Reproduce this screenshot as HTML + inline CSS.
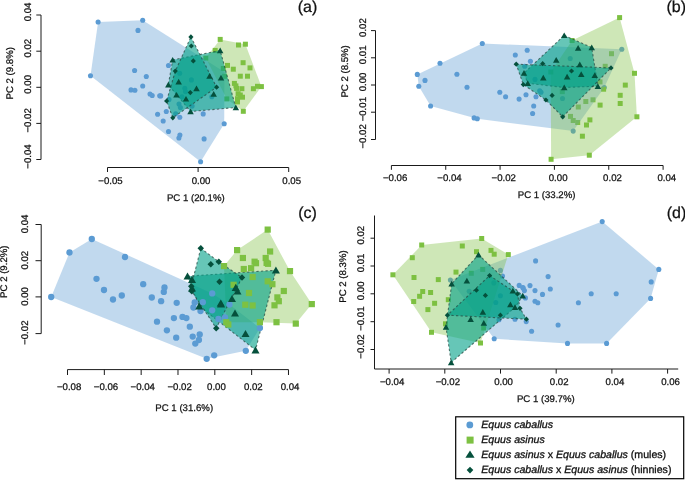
<!DOCTYPE html>
<html><head><meta charset="utf-8"><title>PCA</title>
<style>html,body{margin:0;padding:0;background:#fff;overflow:hidden}svg{display:block;will-change:transform;filter:blur(0.3px)}</style>
</head><body>
<svg width="685" height="480" viewBox="0 0 685 480">
<rect width="685" height="480" fill="#fff"/>
<g fill="#5b9bd3"><circle cx="98.1" cy="22.0" r="2.55"/><circle cx="142.7" cy="20.2" r="2.55"/><circle cx="138.0" cy="30.4" r="2.55"/><circle cx="168.5" cy="65.5" r="2.55"/><circle cx="134.6" cy="70.5" r="2.55"/><circle cx="90.5" cy="75.8" r="2.55"/><circle cx="146.3" cy="76.5" r="2.55"/><circle cx="142.7" cy="86.0" r="2.55"/><circle cx="131.0" cy="89.9" r="2.55"/><circle cx="134.9" cy="90.2" r="2.55"/><circle cx="150.0" cy="94.0" r="2.55"/><circle cx="152.2" cy="95.5" r="2.55"/><circle cx="159.7" cy="95.8" r="2.55"/><circle cx="166.3" cy="111.5" r="2.55"/><circle cx="157.6" cy="114.3" r="2.55"/><circle cx="179.8" cy="117.2" r="2.55"/><circle cx="163.2" cy="121.0" r="2.55"/><circle cx="168.5" cy="131.5" r="2.55"/><circle cx="179.9" cy="135.1" r="2.55"/><circle cx="178.9" cy="138.0" r="2.55"/><circle cx="204.1" cy="138.9" r="2.55"/><circle cx="224.2" cy="123.7" r="2.55"/><circle cx="203.2" cy="113.9" r="2.55"/><circle cx="200.6" cy="161.7" r="2.55"/><circle cx="179.7" cy="73.3" r="2.55"/><circle cx="191.4" cy="79.9" r="2.55"/><circle cx="184.8" cy="88.2" r="2.55"/><circle cx="185.5" cy="91.6" r="2.55"/><circle cx="181.9" cy="96.7" r="2.55"/><circle cx="169.0" cy="99.6" r="2.55"/><circle cx="179.0" cy="104.0" r="2.55"/><circle cx="180.4" cy="107.6" r="2.55"/><circle cx="192.1" cy="106.1" r="2.55"/><circle cx="175.7" cy="113.7" r="2.55"/><circle cx="160.7" cy="95.9" r="2.55"/><circle cx="211.8" cy="96.7" r="2.55"/></g>
<g fill="#7dc142"><rect x="217.7" y="36.9" width="5.0" height="5.0"/><rect x="236.0" y="42.5" width="5.0" height="5.0"/><rect x="242.9" y="41.7" width="5.0" height="5.0"/><rect x="212.7" y="47.9" width="5.0" height="5.0"/><rect x="240.6" y="60.2" width="5.0" height="5.0"/><rect x="247.5" y="65.4" width="5.0" height="5.0"/><rect x="230.8" y="66.7" width="5.0" height="5.0"/><rect x="225.0" y="62.9" width="5.0" height="5.0"/><rect x="237.8" y="73.7" width="5.0" height="5.0"/><rect x="245.0" y="73.7" width="5.0" height="5.0"/><rect x="231.9" y="80.9" width="5.0" height="5.0"/><rect x="233.4" y="83.4" width="5.0" height="5.0"/><rect x="234.1" y="85.9" width="5.0" height="5.0"/><rect x="239.4" y="86.2" width="5.0" height="5.0"/><rect x="250.9" y="86.2" width="5.0" height="5.0"/><rect x="255.0" y="83.8" width="5.0" height="5.0"/><rect x="258.9" y="84.1" width="5.0" height="5.0"/><rect x="235.6" y="91.2" width="5.0" height="5.0"/><rect x="237.8" y="92.5" width="5.0" height="5.0"/><rect x="240.0" y="94.7" width="5.0" height="5.0"/><rect x="235.0" y="96.2" width="5.0" height="5.0"/><rect x="235.0" y="99.4" width="5.0" height="5.0"/><rect x="224.3" y="96.4" width="5.0" height="5.0"/><rect x="240.8" y="108.8" width="5.0" height="5.0"/><rect x="220.8" y="66.0" width="5.0" height="5.0"/><rect x="203.3" y="55.6" width="5.0" height="5.0"/><rect x="222.1" y="73.8" width="5.0" height="5.0"/></g>
<polygon points="98.1,22.0 142.7,20.2 224.5,72.0 224.2,123.7 200.6,161.7 90.5,75.8" fill="#5b9bd3" fill-opacity="0.38"/>
<polygon points="205.8,58.1 220.2,39.4 245.4,44.2 261.4,86.6 243.3,111.3 226.8,98.9" fill="#7dc142" fill-opacity="0.38"/>
<polygon points="172.7,59.9 220.2,50.5 235.8,107.5 190.6,111.5 168.3,84.7" fill="#00a087" fill-opacity="0.6" stroke="#24463e" stroke-opacity="0.7" stroke-width="1.1" stroke-dasharray="2.3 2.3"/>
<polygon points="190.9,36.9 216.6,87.2 172.8,117.8 166.6,101.0 175.3,71.1" fill="#00a087" fill-opacity="0.6" stroke="#24463e" stroke-opacity="0.7" stroke-width="1.1" stroke-dasharray="2.3 2.3"/>
<g fill="#05503c"><path d="M172.7 56.9L175.9 62.6L169.4 62.6Z"/><path d="M220.2 47.5L223.4 53.2L216.9 53.2Z"/><path d="M209.6 73.0L212.8 78.7L206.3 78.7Z"/><path d="M221.0 74.7L224.2 80.4L217.8 80.4Z"/><path d="M178.7 78.8L181.9 84.5L175.4 84.5Z"/><path d="M168.3 81.7L171.6 87.4L165.1 87.4Z"/><path d="M196.5 85.6L199.8 91.3L193.2 91.3Z"/><path d="M176.5 91.9L179.8 97.6L173.2 97.6Z"/><path d="M186.0 95.9L189.2 101.6L182.8 101.6Z"/><path d="M213.7 91.0L216.9 96.7L210.4 96.7Z"/><path d="M190.6 108.5L193.8 114.2L187.3 114.2Z"/><path d="M235.8 104.5L239.1 110.2L232.6 110.2Z"/></g>
<g fill="#05503c"><path d="M190.9 34.3L193.5 36.9L190.9 39.5L188.3 36.9Z"/><path d="M191.3 43.4L193.9 46.0L191.3 48.6L188.7 46.0Z"/><path d="M193.3 58.3L195.9 60.9L193.3 63.5L190.7 60.9Z"/><path d="M175.3 68.5L177.9 71.1L175.3 73.7L172.7 71.1Z"/><path d="M216.6 84.6L219.2 87.2L216.6 89.8L214.0 87.2Z"/><path d="M190.3 90.0L192.9 92.6L190.3 95.2L187.7 92.6Z"/><path d="M166.6 98.4L169.2 101.0L166.6 103.6L164.0 101.0Z"/><path d="M172.8 115.2L175.4 117.8L172.8 120.4L170.2 117.8Z"/></g>
<g fill="#5b9bd3"><circle cx="482.3" cy="43.5" r="2.55"/><circle cx="440.0" cy="63.3" r="2.55"/><circle cx="417.3" cy="74.4" r="2.55"/><circle cx="425.0" cy="80.4" r="2.55"/><circle cx="418.8" cy="86.2" r="2.55"/><circle cx="430.6" cy="106.0" r="2.55"/><circle cx="474.1" cy="117.9" r="2.55"/><circle cx="477.3" cy="118.8" r="2.55"/><circle cx="456.9" cy="74.2" r="2.55"/><circle cx="467.0" cy="87.3" r="2.55"/><circle cx="499.8" cy="92.2" r="2.55"/><circle cx="505.6" cy="96.7" r="2.55"/><circle cx="515.3" cy="55.0" r="2.55"/><circle cx="527.2" cy="50.3" r="2.55"/><circle cx="530.4" cy="61.2" r="2.55"/><circle cx="519.1" cy="99.1" r="2.55"/><circle cx="526.0" cy="94.8" r="2.55"/><circle cx="536.0" cy="96.8" r="2.55"/><circle cx="533.7" cy="106.0" r="2.55"/><circle cx="532.6" cy="113.5" r="2.55"/><circle cx="573.2" cy="131.1" r="2.55"/><circle cx="604.3" cy="87.5" r="2.55"/><circle cx="621.8" cy="49.2" r="2.55"/><circle cx="524.7" cy="66.3" r="2.55"/><circle cx="535.0" cy="79.4" r="2.55"/><circle cx="539.7" cy="90.7" r="2.55"/><circle cx="541.0" cy="92.3" r="2.55"/><circle cx="570.2" cy="58.5" r="2.55"/><circle cx="562.5" cy="98.5" r="2.55"/></g>
<g fill="#7dc142"><rect x="617.1" y="15.1" width="5.0" height="5.0"/><rect x="569.6" y="38.0" width="5.0" height="5.0"/><rect x="609.0" y="51.2" width="5.0" height="5.0"/><rect x="602.7" y="63.8" width="5.0" height="5.0"/><rect x="632.0" y="70.8" width="5.0" height="5.0"/><rect x="622.8" y="82.6" width="5.0" height="5.0"/><rect x="617.7" y="92.8" width="5.0" height="5.0"/><rect x="617.7" y="101.0" width="5.0" height="5.0"/><rect x="597.6" y="102.6" width="5.0" height="5.0"/><rect x="601.1" y="86.7" width="5.0" height="5.0"/><rect x="590.5" y="97.3" width="5.0" height="5.0"/><rect x="583.3" y="99.0" width="5.0" height="5.0"/><rect x="575.8" y="104.5" width="5.0" height="5.0"/><rect x="587.4" y="117.4" width="5.0" height="5.0"/><rect x="584.0" y="122.5" width="5.0" height="5.0"/><rect x="579.9" y="133.7" width="5.0" height="5.0"/><rect x="568.0" y="113.9" width="5.0" height="5.0"/><rect x="570.7" y="118.0" width="5.0" height="5.0"/><rect x="575.2" y="120.0" width="5.0" height="5.0"/><rect x="559.8" y="89.1" width="5.0" height="5.0"/><rect x="548.6" y="156.8" width="5.0" height="5.0"/><rect x="586.8" y="152.7" width="5.0" height="5.0"/><rect x="634.4" y="114.3" width="5.0" height="5.0"/><rect x="597.5" y="79.4" width="5.0" height="5.0"/><rect x="548.3" y="69.5" width="5.0" height="5.0"/></g>
<polygon points="482.3,43.5 621.8,49.2 604.3,87.5 573.2,131.1 477.3,118.8 430.6,106.0 418.8,86.2 417.3,74.4" fill="#5b9bd3" fill-opacity="0.38"/>
<polygon points="619.6,17.6 634.5,73.2 636.9,116.8 589.3,155.2 551.1,159.3 550.8,72.0 572.1,40.5" fill="#7dc142" fill-opacity="0.38"/>
<polygon points="564.2,35.4 591.7,47.5 597.9,86.2 564.2,87.5 527.7,83.3 524.0,73.1" fill="#00a087" fill-opacity="0.6" stroke="#24463e" stroke-opacity="0.7" stroke-width="1.1" stroke-dasharray="2.3 2.3"/>
<polygon points="516.2,64.2 611.0,67.9 562.7,116.8 545.9,100.0 523.3,84.6" fill="#00a087" fill-opacity="0.6" stroke="#24463e" stroke-opacity="0.7" stroke-width="1.1" stroke-dasharray="2.3 2.3"/>
<g fill="#05503c"><path d="M564.2 32.4L567.5 38.1L561.0 38.1Z"/><path d="M578.1 45.1L581.4 50.8L574.9 50.8Z"/><path d="M591.7 44.5L595.0 50.2L588.5 50.2Z"/><path d="M556.2 57.0L559.5 62.7L553.0 62.7Z"/><path d="M579.8 61.6L583.0 67.3L576.5 67.3Z"/><path d="M524.0 70.1L527.2 75.8L520.8 75.8Z"/><path d="M543.3 74.7L546.5 80.4L540.0 80.4Z"/><path d="M567.1 73.7L570.4 79.4L563.9 79.4Z"/><path d="M581.2 71.2L584.5 76.9L578.0 76.9Z"/><path d="M594.8 72.2L598.0 77.9L591.5 77.9Z"/><path d="M527.7 80.3L531.0 86.0L524.5 86.0Z"/><path d="M564.2 84.5L567.5 90.2L561.0 90.2Z"/><path d="M597.9 83.3L601.1 89.0L594.6 89.0Z"/></g>
<g fill="#05503c"><path d="M516.2 61.6L518.9 64.2L516.2 66.8L513.6 64.2Z"/><path d="M542.7 61.1L545.3 63.8L542.7 66.3L540.1 63.8Z"/><path d="M571.5 68.4L574.1 71.0L571.5 73.6L568.9 71.0Z"/><path d="M611.0 65.3L613.6 67.9L611.0 70.5L608.4 67.9Z"/><path d="M523.3 82.0L525.9 84.6L523.3 87.2L520.7 84.6Z"/><path d="M552.1 92.8L554.7 95.4L552.1 98.0L549.5 95.4Z"/><path d="M545.9 97.4L548.5 100.0L545.9 102.6L543.3 100.0Z"/><path d="M562.7 114.2L565.3 116.8L562.7 119.4L560.1 116.8Z"/></g>
<polygon points="51.2,297.0 69.5,252.5 91.8,239.0 212.2,293.4 229.5,304.5 259.9,328.0 245.8,350.8 206.7,358.8" fill="#5b9bd3" fill-opacity="0.38"/>
<polygon points="267.7,229.6 290.0,271.1 311.8,304.1 295.8,323.6 259.9,322.2 226.3,322.2 224.0,266.1 237.1,250.1" fill="#7dc142" fill-opacity="0.38"/>
<polygon points="187.5,276.2 275.9,270.2 255.5,350.0 199.2,306.2 192.0,288.2" fill="#00a087" fill-opacity="0.6" stroke="#24463e" stroke-opacity="0.7" stroke-width="1.1" stroke-dasharray="2.3 2.3"/>
<polygon points="200.8,248.2 218.8,261.8 242.0,277.5 216.2,328.2 191.8,291.2 191.2,286.2" fill="#00a087" fill-opacity="0.6" stroke="#24463e" stroke-opacity="0.7" stroke-width="1.1" stroke-dasharray="2.3 2.3"/>
<g fill="#5b9bd3"><circle cx="51.2" cy="297.0" r="3.162"/><circle cx="69.5" cy="252.5" r="3.162"/><circle cx="91.8" cy="239.0" r="3.162"/><circle cx="125.0" cy="257.0" r="3.162"/><circle cx="96.5" cy="278.8" r="3.162"/><circle cx="104.0" cy="290.0" r="3.162"/><circle cx="113.0" cy="299.5" r="3.162"/><circle cx="121.8" cy="295.5" r="3.162"/><circle cx="143.2" cy="284.2" r="3.162"/><circle cx="151.8" cy="297.5" r="3.162"/><circle cx="161.1" cy="301.2" r="3.162"/><circle cx="163.8" cy="291.9" r="3.162"/><circle cx="164.5" cy="287.5" r="3.162"/><circle cx="176.7" cy="302.8" r="3.162"/><circle cx="194.7" cy="302.5" r="3.162"/><circle cx="193.4" cy="307.5" r="3.162"/><circle cx="200.5" cy="311.1" r="3.162"/><circle cx="202.8" cy="302.2" r="3.162"/><circle cx="157.0" cy="321.7" r="3.162"/><circle cx="173.9" cy="318.1" r="3.162"/><circle cx="182.5" cy="316.9" r="3.162"/><circle cx="186.4" cy="318.1" r="3.162"/><circle cx="189.8" cy="326.7" r="3.162"/><circle cx="166.9" cy="330.3" r="3.162"/><circle cx="176.2" cy="337.7" r="3.162"/><circle cx="192.7" cy="336.6" r="3.162"/><circle cx="199.7" cy="334.5" r="3.162"/><circle cx="198.9" cy="340.0" r="3.162"/><circle cx="195.3" cy="343.6" r="3.162"/><circle cx="206.7" cy="358.8" r="3.162"/><circle cx="214.2" cy="355.3" r="3.162"/><circle cx="245.8" cy="350.8" r="3.162"/><circle cx="259.9" cy="328.0" r="3.162"/><circle cx="212.2" cy="293.4" r="3.162"/><circle cx="212.2" cy="310.3" r="3.162"/><circle cx="218.4" cy="318.9" r="3.162"/><circle cx="225.0" cy="317.5" r="3.162"/><circle cx="229.5" cy="304.5" r="3.162"/></g>
<g fill="#7dc142"><rect x="264.6" y="226.5" width="6.2" height="6.2"/><rect x="234.0" y="247.0" width="6.2" height="6.2"/><rect x="267.0" y="248.4" width="6.2" height="6.2"/><rect x="239.8" y="254.9" width="6.2" height="6.2"/><rect x="251.5" y="258.6" width="6.2" height="6.2"/><rect x="252.9" y="260.1" width="6.2" height="6.2"/><rect x="262.6" y="254.9" width="6.2" height="6.2"/><rect x="263.5" y="259.8" width="6.2" height="6.2"/><rect x="264.9" y="260.7" width="6.2" height="6.2"/><rect x="240.7" y="265.9" width="6.2" height="6.2"/><rect x="248.0" y="265.1" width="6.2" height="6.2"/><rect x="220.9" y="263.0" width="6.2" height="6.2"/><rect x="286.9" y="268.0" width="6.2" height="6.2"/><rect x="249.5" y="273.9" width="6.2" height="6.2"/><rect x="264.6" y="278.2" width="6.2" height="6.2"/><rect x="269.3" y="281.1" width="6.2" height="6.2"/><rect x="230.5" y="281.7" width="6.2" height="6.2"/><rect x="280.7" y="287.9" width="6.2" height="6.2"/><rect x="274.3" y="294.3" width="6.2" height="6.2"/><rect x="275.7" y="298.1" width="6.2" height="6.2"/><rect x="271.4" y="302.2" width="6.2" height="6.2"/><rect x="245.9" y="289.9" width="6.2" height="6.2"/><rect x="242.2" y="301.6" width="6.2" height="6.2"/><rect x="249.5" y="302.4" width="6.2" height="6.2"/><rect x="308.7" y="301.0" width="6.2" height="6.2"/><rect x="273.4" y="319.1" width="6.2" height="6.2"/><rect x="292.7" y="320.5" width="6.2" height="6.2"/><rect x="256.8" y="319.1" width="6.2" height="6.2"/><rect x="223.2" y="319.1" width="6.2" height="6.2"/><rect x="225.2" y="321.4" width="6.2" height="6.2"/></g>
<g fill="#05503c"><path d="M187.5 272.6L191.5 279.6L183.5 279.6Z"/><path d="M192.0 275.8L196.0 282.9L188.0 282.9Z"/><path d="M192.0 284.6L196.0 291.6L188.0 291.6Z"/><path d="M199.2 302.6L203.3 309.6L195.2 309.6Z"/><path d="M220.8 299.6L224.8 306.6L216.7 306.6Z"/><path d="M232.0 295.1L236.0 302.1L228.0 302.1Z"/><path d="M237.5 287.6L241.5 294.6L233.5 294.6Z"/><path d="M235.8 283.8L239.8 290.9L231.7 290.9Z"/><path d="M235.0 309.6L239.0 316.6L231.0 316.6Z"/><path d="M245.5 330.1L249.5 337.1L241.5 337.1Z"/><path d="M275.9 266.5L279.9 273.6L271.9 273.6Z"/><path d="M255.5 346.3L259.5 353.4L251.5 353.4Z"/><path d="M221.0 300.4L225.0 307.5L217.0 307.5Z"/></g>
<g fill="#05503c"><path d="M200.8 245.0L204.0 248.2L200.8 251.5L197.5 248.2Z"/><path d="M210.8 261.0L214.0 264.2L210.8 267.5L207.5 264.2Z"/><path d="M218.8 258.5L222.0 261.8L218.8 265.0L215.5 261.8Z"/><path d="M219.5 278.5L222.7 281.8L219.5 285.0L216.3 281.8Z"/><path d="M191.2 283.0L194.5 286.2L191.2 289.5L188.0 286.2Z"/><path d="M191.8 288.0L195.0 291.2L191.8 294.5L188.5 291.2Z"/><path d="M242.0 274.3L245.2 277.5L242.0 280.7L238.8 277.5Z"/><path d="M216.2 325.0L219.5 328.2L216.2 331.5L213.0 328.2Z"/></g>
<g fill="#5b9bd3"><circle cx="450.4" cy="280.0" r="2.55"/><circle cx="602.2" cy="221.6" r="2.55"/><circle cx="658.8" cy="269.4" r="2.55"/><circle cx="651.2" cy="281.9" r="2.55"/><circle cx="650.6" cy="298.4" r="2.55"/><circle cx="606.6" cy="343.4" r="2.55"/><circle cx="567.5" cy="343.4" r="2.55"/><circle cx="535.6" cy="260.9" r="2.55"/><circle cx="548.1" cy="276.6" r="2.55"/><circle cx="530.0" cy="285.6" r="2.55"/><circle cx="535.0" cy="290.6" r="2.55"/><circle cx="542.5" cy="294.4" r="2.55"/><circle cx="550.3" cy="289.0" r="2.55"/><circle cx="535.0" cy="301.2" r="2.55"/><circle cx="537.8" cy="302.8" r="2.55"/><circle cx="591.2" cy="293.8" r="2.55"/><circle cx="616.2" cy="293.8" r="2.55"/><circle cx="578.4" cy="302.8" r="2.55"/><circle cx="558.1" cy="325.0" r="2.55"/><circle cx="531.6" cy="331.2" r="2.55"/><circle cx="526.2" cy="321.6" r="2.55"/><circle cx="523.1" cy="288.1" r="2.55"/><circle cx="502.5" cy="276.0" r="2.55"/><circle cx="519.2" cy="285.4" r="2.55"/><circle cx="522.9" cy="287.5" r="2.55"/><circle cx="524.4" cy="290.6" r="2.55"/><circle cx="525.4" cy="297.9" r="2.55"/><circle cx="515.0" cy="319.2" r="2.55"/><circle cx="494.2" cy="338.8" r="2.55"/><circle cx="469.2" cy="291.2" r="2.55"/><circle cx="500.4" cy="295.8" r="2.55"/><circle cx="495.8" cy="302.5" r="2.55"/><circle cx="493.8" cy="282.9" r="2.55"/><circle cx="499.0" cy="319.8" r="2.55"/><circle cx="500.4" cy="270.4" r="2.55"/></g>
<g fill="#7dc142"><rect x="419.2" y="242.5" width="5.0" height="5.0"/><rect x="459.8" y="243.5" width="5.0" height="5.0"/><rect x="409.8" y="255.2" width="5.0" height="5.0"/><rect x="390.4" y="272.3" width="5.0" height="5.0"/><rect x="411.5" y="275.0" width="5.0" height="5.0"/><rect x="435.8" y="277.1" width="5.0" height="5.0"/><rect x="453.5" y="269.6" width="5.0" height="5.0"/><rect x="420.2" y="289.0" width="5.0" height="5.0"/><rect x="417.1" y="293.8" width="5.0" height="5.0"/><rect x="428.1" y="290.0" width="5.0" height="5.0"/><rect x="411.2" y="299.0" width="5.0" height="5.0"/><rect x="432.1" y="300.8" width="5.0" height="5.0"/><rect x="425.4" y="307.1" width="5.0" height="5.0"/><rect x="479.2" y="236.0" width="5.0" height="5.0"/><rect x="474.0" y="249.2" width="5.0" height="5.0"/><rect x="488.5" y="247.9" width="5.0" height="5.0"/><rect x="491.7" y="251.7" width="5.0" height="5.0"/><rect x="505.8" y="252.1" width="5.0" height="5.0"/><rect x="445.8" y="297.2" width="5.0" height="5.0"/><rect x="443.0" y="321.3" width="5.0" height="5.0"/><rect x="478.0" y="340.5" width="5.0" height="5.0"/><rect x="481.2" y="325.5" width="5.0" height="5.0"/><rect x="480.2" y="266.9" width="5.0" height="5.0"/><rect x="468.8" y="270.8" width="5.0" height="5.0"/><rect x="429.0" y="329.8" width="5.0" height="5.0"/></g>
<polygon points="450.4,280.0 602.2,221.6 658.8,269.4 650.6,298.4 606.6,343.4 567.5,343.4 494.2,338.8" fill="#5b9bd3" fill-opacity="0.38"/>
<polygon points="392.9,274.8 421.7,245.0 481.7,238.5 508.3,254.6 480.5,343.0 431.5,332.3" fill="#7dc142" fill-opacity="0.38"/>
<polygon points="478.5,254.8 522.8,295.8 515.0,307.3 451.2,362.5 446.0,327.0 451.7,283.8" fill="#00a087" fill-opacity="0.6" stroke="#24463e" stroke-opacity="0.7" stroke-width="1.1" stroke-dasharray="2.3 2.3"/>
<polygon points="489.6,275.6 517.5,293.9 520.0,308.3 526.4,319.2 447.4,315.2" fill="#00a087" fill-opacity="0.6" stroke="#24463e" stroke-opacity="0.7" stroke-width="1.1" stroke-dasharray="2.3 2.3"/>
<g fill="#05503c"><path d="M478.5 251.8L481.8 257.5L475.2 257.5Z"/><path d="M451.7 280.8L454.9 286.5L448.4 286.5Z"/><path d="M466.9 277.7L470.1 283.4L463.6 283.4Z"/><path d="M470.7 316.3L473.9 322.0L467.4 322.0Z"/><path d="M446.0 324.0L449.2 329.7L442.8 329.7Z"/><path d="M512.9 287.7L516.1 293.4L509.6 293.4Z"/><path d="M522.8 292.8L526.0 298.5L519.5 298.5Z"/><path d="M510.4 301.5L513.6 307.2L507.1 307.2Z"/><path d="M515.0 304.3L518.2 310.0L511.8 310.0Z"/><path d="M482.8 309.1L486.1 314.8L479.6 314.8Z"/><path d="M483.8 320.1L487.1 325.8L480.6 325.8Z"/><path d="M451.2 359.5L454.4 365.2L447.9 365.2Z"/></g>
<g fill="#05503c"><path d="M489.6 273.0L492.2 275.6L489.6 278.2L487.0 275.6Z"/><path d="M476.4 287.6L479.0 290.2L476.4 292.8L473.8 290.2Z"/><path d="M485.4 292.8L488.0 295.4L485.4 298.0L482.8 295.4Z"/><path d="M517.5 291.3L520.1 293.9L517.5 296.5L514.9 293.9Z"/><path d="M520.0 305.7L522.6 308.3L520.0 310.9L517.4 308.3Z"/><path d="M500.4 312.6L503.0 315.2L500.4 317.8L497.8 315.2Z"/><path d="M526.4 316.6L529.0 319.2L526.4 321.8L523.8 319.2Z"/><path d="M447.4 312.6L450.0 315.2L447.4 317.8L444.8 315.2Z"/></g>
<g stroke="#1a1a1a" stroke-width="1" fill="none"><line x1="41.0" y1="15.0" x2="41.0" y2="159.5"/><line x1="36.3" y1="15.0" x2="41.0" y2="15.0"/><line x1="36.3" y1="51.2" x2="41.0" y2="51.2"/><line x1="36.3" y1="87.3" x2="41.0" y2="87.3"/><line x1="36.3" y1="123.4" x2="41.0" y2="123.4"/><line x1="36.3" y1="159.5" x2="41.0" y2="159.5"/><line x1="107.5" y1="167.5" x2="288.7" y2="167.5"/><line x1="107.5" y1="167.5" x2="107.5" y2="172.0"/><line x1="198.1" y1="167.5" x2="198.1" y2="172.0"/><line x1="288.7" y1="167.5" x2="288.7" y2="172.0"/><line x1="375.5" y1="30.6" x2="375.5" y2="139.5"/><line x1="371.0" y1="30.6" x2="375.5" y2="30.6"/><line x1="371.0" y1="57.8" x2="375.5" y2="57.8"/><line x1="371.0" y1="85.0" x2="375.5" y2="85.0"/><line x1="371.0" y1="112.2" x2="375.5" y2="112.2"/><line x1="371.0" y1="139.5" x2="375.5" y2="139.5"/><line x1="391.4" y1="165.5" x2="663.1" y2="165.5"/><line x1="391.4" y1="165.5" x2="391.4" y2="169.8"/><line x1="445.74" y1="165.5" x2="445.74" y2="169.8"/><line x1="500.08" y1="165.5" x2="500.08" y2="169.8"/><line x1="554.42" y1="165.5" x2="554.42" y2="169.8"/><line x1="608.76" y1="165.5" x2="608.76" y2="169.8"/><line x1="663.1" y1="165.5" x2="663.1" y2="169.8"/><line x1="41.2" y1="224.5" x2="41.2" y2="333.6"/><line x1="35.5" y1="224.5" x2="41.2" y2="224.5"/><line x1="35.5" y1="260.7" x2="41.2" y2="260.7"/><line x1="35.5" y1="296.9" x2="41.2" y2="296.9"/><line x1="35.5" y1="333.6" x2="41.2" y2="333.6"/><line x1="67.5" y1="369.6" x2="288.5" y2="369.6"/><line x1="67.5" y1="369.6" x2="67.5" y2="375.0"/><line x1="104.33" y1="369.6" x2="104.33" y2="375.0"/><line x1="141.16" y1="369.6" x2="141.16" y2="375.0"/><line x1="177.99" y1="369.6" x2="177.99" y2="375.0"/><line x1="214.82" y1="369.6" x2="214.82" y2="375.0"/><line x1="251.64999999999998" y1="369.6" x2="251.64999999999998" y2="375.0"/><line x1="288.48" y1="369.6" x2="288.48" y2="375.0"/><line x1="374.5" y1="215.5" x2="374.5" y2="369.0"/><line x1="370.5" y1="238.2" x2="374.5" y2="238.2"/><line x1="370.5" y1="266.0" x2="374.5" y2="266.0"/><line x1="370.5" y1="293.8" x2="374.5" y2="293.8"/><line x1="370.5" y1="321.7" x2="374.5" y2="321.7"/><line x1="370.5" y1="349.5" x2="374.5" y2="349.5"/><line x1="374.5" y1="369.0" x2="678.2" y2="369.0"/><line x1="389.1" y1="369.0" x2="389.1" y2="373.6"/><line x1="444.8" y1="369.0" x2="444.8" y2="373.6"/><line x1="500.5" y1="369.0" x2="500.5" y2="373.6"/><line x1="556.2" y1="369.0" x2="556.2" y2="373.6"/><line x1="611.9000000000001" y1="369.0" x2="611.9000000000001" y2="373.6"/><line x1="667.6" y1="369.0" x2="667.6" y2="373.6"/></g>
<g fill="#111" stroke="#111" stroke-width="0.25" font-family='"Liberation Sans", sans-serif' text-rendering="geometricPrecision"><text x="0" y="0" transform="translate(30.8,12.0) rotate(-90) scale(1.0,1)" text-anchor="middle" font-size="9.65">0.04</text><text x="0" y="0" transform="translate(30.8,48.2) rotate(-90) scale(1.0,1)" text-anchor="middle" font-size="9.65">0.02</text><text x="0" y="0" transform="translate(30.8,84.3) rotate(-90) scale(1.0,1)" text-anchor="middle" font-size="9.65">0.00</text><text x="0" y="0" transform="translate(30.8,120.4) rotate(-90) scale(1.0,1)" text-anchor="middle" font-size="9.65">−0.02</text><text x="0" y="0" transform="translate(30.8,156.5) rotate(-90) scale(1.0,1)" text-anchor="middle" font-size="9.65">−0.04</text><text x="0" y="0" transform="translate(110.5,183.7) scale(1.0,1)" text-anchor="middle" font-size="9.65">−0.05</text><text x="0" y="0" transform="translate(201.1,183.7) scale(1.0,1)" text-anchor="middle" font-size="9.65">0.00</text><text x="0" y="0" transform="translate(291.7,183.7) scale(1.0,1)" text-anchor="middle" font-size="9.65">0.05</text><text x="0" y="0" transform="translate(195.8,200.6) scale(1.0,1)" text-anchor="middle" font-size="9.65">PC 1 (20.1%)</text><text x="0" y="0" transform="translate(12.8,73.3) rotate(-90) scale(1.0,1)" text-anchor="middle" font-size="9.65">PC 2 (9.8%)</text><text x="0" y="0" transform="translate(307.5,12.0) scale(1.0,1)" text-anchor="middle" font-size="16.00">(a)</text><text x="0" y="0" transform="translate(365.5,27.6) rotate(-90) scale(1.0,1)" text-anchor="middle" font-size="9.65">0.02</text><text x="0" y="0" transform="translate(365.5,54.8) rotate(-90) scale(1.0,1)" text-anchor="middle" font-size="9.65">0.01</text><text x="0" y="0" transform="translate(365.5,82.0) rotate(-90) scale(1.0,1)" text-anchor="middle" font-size="9.65">0.00</text><text x="0" y="0" transform="translate(365.5,109.2) rotate(-90) scale(1.0,1)" text-anchor="middle" font-size="9.65">−0.01</text><text x="0" y="0" transform="translate(365.5,136.4) rotate(-90) scale(1.0,1)" text-anchor="middle" font-size="9.65">−0.02</text><text x="0" y="0" transform="translate(395.09999999999997,180.7) scale(1.0,1)" text-anchor="middle" font-size="9.65">−0.06</text><text x="0" y="0" transform="translate(449.44,180.7) scale(1.0,1)" text-anchor="middle" font-size="9.65">−0.04</text><text x="0" y="0" transform="translate(503.78,180.7) scale(1.0,1)" text-anchor="middle" font-size="9.65">−0.02</text><text x="0" y="0" transform="translate(558.12,180.7) scale(1.0,1)" text-anchor="middle" font-size="9.65">0.00</text><text x="0" y="0" transform="translate(612.46,180.7) scale(1.0,1)" text-anchor="middle" font-size="9.65">0.02</text><text x="0" y="0" transform="translate(666.8000000000001,180.7) scale(1.0,1)" text-anchor="middle" font-size="9.65">0.04</text><text x="0" y="0" transform="translate(546.6,198.3) scale(1.0,1)" text-anchor="middle" font-size="9.65">PC 1 (33.2%)</text><text x="0" y="0" transform="translate(348.0,71.4) rotate(-90) scale(1.0,1)" text-anchor="middle" font-size="9.65">PC 2 (8.5%)</text><text x="0" y="0" transform="translate(676.3,12.1) scale(1.0,1)" text-anchor="middle" font-size="16.00">(b)</text><text x="0" y="0" transform="translate(28.3,224.0) rotate(-90) scale(1.0,1)" text-anchor="middle" font-size="9.65">0.04</text><text x="0" y="0" transform="translate(28.3,260.2) rotate(-90) scale(1.0,1)" text-anchor="middle" font-size="9.65">0.02</text><text x="0" y="0" transform="translate(28.3,296.4) rotate(-90) scale(1.0,1)" text-anchor="middle" font-size="9.65">0.00</text><text x="0" y="0" transform="translate(28.3,332.7) rotate(-90) scale(1.0,1)" text-anchor="middle" font-size="9.65">−0.02</text><text x="0" y="0" transform="translate(69.1,389.6) scale(1.0,1)" text-anchor="middle" font-size="9.65">−0.08</text><text x="0" y="0" transform="translate(105.92999999999999,389.6) scale(1.0,1)" text-anchor="middle" font-size="9.65">−0.06</text><text x="0" y="0" transform="translate(142.76,389.6) scale(1.0,1)" text-anchor="middle" font-size="9.65">−0.04</text><text x="0" y="0" transform="translate(179.59,389.6) scale(1.0,1)" text-anchor="middle" font-size="9.65">−0.02</text><text x="0" y="0" transform="translate(216.42,389.6) scale(1.0,1)" text-anchor="middle" font-size="9.65">0.00</text><text x="0" y="0" transform="translate(253.24999999999997,389.6) scale(1.0,1)" text-anchor="middle" font-size="9.65">0.02</text><text x="0" y="0" transform="translate(290.08000000000004,389.6) scale(1.0,1)" text-anchor="middle" font-size="9.65">0.04</text><text x="0" y="0" transform="translate(184.2,410.7) scale(1.0,1)" text-anchor="middle" font-size="9.65">PC 1 (31.6%)</text><text x="0" y="0" transform="translate(6.7,271.7) rotate(-90) scale(1.0,1)" text-anchor="middle" font-size="9.65">PC 2 (9.2%)</text><text x="0" y="0" transform="translate(307.6,218.0) scale(1.0,1)" text-anchor="middle" font-size="16.00">(c)</text><text x="0" y="0" transform="translate(364.0,235.2) rotate(-90) scale(1.0,1)" text-anchor="middle" font-size="9.65">0.02</text><text x="0" y="0" transform="translate(364.0,263.0) rotate(-90) scale(1.0,1)" text-anchor="middle" font-size="9.65">0.01</text><text x="0" y="0" transform="translate(364.0,290.8) rotate(-90) scale(1.0,1)" text-anchor="middle" font-size="9.65">0.00</text><text x="0" y="0" transform="translate(364.0,318.7) rotate(-90) scale(1.0,1)" text-anchor="middle" font-size="9.65">−0.01</text><text x="0" y="0" transform="translate(364.0,346.5) rotate(-90) scale(1.0,1)" text-anchor="middle" font-size="9.65">−0.02</text><text x="0" y="0" transform="translate(392.1,385.0) scale(1.0,1)" text-anchor="middle" font-size="9.65">−0.04</text><text x="0" y="0" transform="translate(447.8,385.0) scale(1.0,1)" text-anchor="middle" font-size="9.65">−0.02</text><text x="0" y="0" transform="translate(503.5,385.0) scale(1.0,1)" text-anchor="middle" font-size="9.65">0.00</text><text x="0" y="0" transform="translate(559.2,385.0) scale(1.0,1)" text-anchor="middle" font-size="9.65">0.02</text><text x="0" y="0" transform="translate(614.9000000000001,385.0) scale(1.0,1)" text-anchor="middle" font-size="9.65">0.04</text><text x="0" y="0" transform="translate(670.6,385.0) scale(1.0,1)" text-anchor="middle" font-size="9.65">0.06</text><text x="0" y="0" transform="translate(545.8,402.0) scale(1.0,1)" text-anchor="middle" font-size="9.65">PC 1 (39.7%)</text><text x="0" y="0" transform="translate(346.0,276.5) rotate(-90) scale(1.0,1)" text-anchor="middle" font-size="9.65">PC 2 (8.3%)</text><text x="0" y="0" transform="translate(676.5,218.0) scale(1.0,1)" text-anchor="middle" font-size="16.00">(d)</text></g>
<g font-family='"Liberation Sans", sans-serif' fill="#111" text-rendering="geometricPrecision"><rect x="455.7" y="416.8" width="228.0" height="61.9" fill="#fff" stroke="#000" stroke-width="1.2"/><circle cx="469.8" cy="424.9" r="3.4" fill="#5b9bd3"/><rect x="466.6" y="436.6" width="7" height="7" fill="#7dc142"/><path d="M470 450.4L474.6 457.8L465.4 457.8Z" fill="#05503c"/><path d="M470 466.8L473.3 470.1L470 473.4L466.7 470.1Z" fill="#05503c"/><text x="481.2" y="428.3" font-size="10.6" stroke="#111" stroke-width="0.3"><tspan font-style="italic">Equus caballus</tspan></text><text x="481.2" y="443.0" font-size="10.6" stroke="#111" stroke-width="0.3"><tspan font-style="italic">Equus asinus</tspan></text><text x="481.2" y="458.1" font-size="10.6" stroke="#111" stroke-width="0.3"><tspan font-style="italic">Equus asinus</tspan> x <tspan font-style="italic">Equus caballus</tspan> (mules)</text><text x="481.2" y="472.6" font-size="10.6" stroke="#111" stroke-width="0.3"><tspan font-style="italic">Equus caballus</tspan> x <tspan font-style="italic">Equus asinus</tspan> (hinnies)</text></g>
</svg>
</body></html>
